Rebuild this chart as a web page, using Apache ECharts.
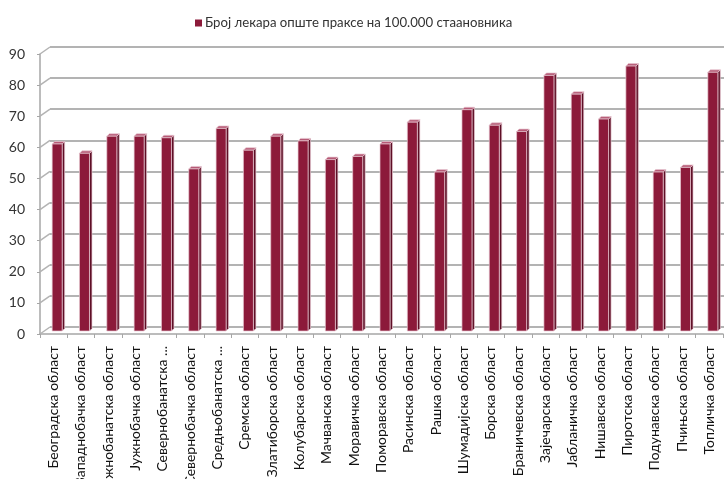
<!DOCTYPE html>
<html><head><meta charset="utf-8">
<script src="https://cdn.jsdelivr.net/npm/echarts@6/dist/echarts.min.js"></script>
<style>html,body{margin:0;padding:0;background:#fff}#c{width:724px;height:479px}</style>
</head><body><div id="c"></div>
<script>
var seriesName = 'Број лекара опште праксе на 100.000 стаановника';
var categories = ['Београдска област','Западнобачка област','Јужнобанатска област','Јужнобачка област','Севернобанатска ...','Севернобачка област','Средњобанатска ...','Сремска област','Златиборска област','Колубарска област','Мачванска област','Моравичка област','Поморавска област','Расинска област','Рашка област','Шумадијска област','Борска област','Браничевска област','Зајечарска област','Јабланичка област','Нишавска област','Пиротска област','Подунавска област','Пчињска област','Топличка област'];
var values = [60, 57, 62.5, 62.5, 62, 52, 65, 58, 62.5, 61, 55, 56, 60, 67, 51, 71, 66, 64, 82, 76, 68, 85, 51, 52.5, 83];
var yTicks = [0, 10, 20, 30, 40, 50, 60, 70, 80, 90];

var FONT = 'Lato, "Noto Sans", sans-serif';
var frontC = '#8c1a3a', sideC = '#5e0f26', topC = '#b65a76', edgeC = '#e8c9d2';

var barData = values.map(function (v, i) { return [i, v]; });
var stubData = yTicks.map(function (t) { return [0, t]; });

var chart = echarts.init(document.getElementById('c'), null, {renderer: 'canvas'});
chart.setOption({
  animation: false,
  legend: {
    left: 190, top: 10, icon: 'rect', itemWidth: 7, itemHeight: 7, itemGap: 4,
    textStyle: {fontFamily: FONT, fontSize: 13.2, color: '#333', lineHeight: 16, padding: [0, 0, 0, -2]},
    data: [seriesName]
  },
  grid: [
    {left: 40, top: 54, width: 683, height: 280, outerBoundsMode: 'none', containLabel: false},
    {left: 50, top: 47, right: 0, height: 280, outerBoundsMode: 'none', containLabel: false},
    {left: 43.5, top: 50.5, width: 683, height: 280.5, outerBoundsMode: 'none', containLabel: false}
  ],
  xAxis: [
    {gridIndex: 0, type: 'category', data: categories, boundaryGap: true,
     axisLine: {lineStyle: {color: '#a6a6a6', width: 1.5}},
     axisTick: {show: true, length: 4, lineStyle: {color: '#a6a6a6'}},
     axisLabel: {rotate: 90, interval: 0, margin: 12, fontFamily: FONT, fontSize: 14, color: '#111'}},
    {gridIndex: 1, type: 'value', min: 0, max: 1, show: false},
    {gridIndex: 2, type: 'category', data: categories, show: false}
  ],
  yAxis: [
    {gridIndex: 0, type: 'value', min: 0, max: 90, interval: 10,
     axisLine: {show: true, lineStyle: {color: '#a6a6a6', width: 1.5}},
     axisTick: {show: true, length: 3, lineStyle: {color: '#a6a6a6'}},
     splitLine: {show: false},
     axisLabel: {margin: 15, fontFamily: FONT, fontSize: 14, color: '#333'}},
    {gridIndex: 1, type: 'value', min: 0, max: 90, interval: 10,
     axisLine: {show: false}, axisTick: {show: false}, axisLabel: {show: false},
     splitLine: {show: true, lineStyle: {color: '#b3b3b3', width: 2}}},
    {gridIndex: 2, type: 'value', min: 0, max: 90, show: false}
  ],
  series: [
    {
      type: 'custom', name: 'stubs', xAxisIndex: 1, yAxisIndex: 1, silent: true,
      data: stubData, encode: {x: 0, y: 1}, legendHoverLink: false,
      renderItem: function (params, api) {
        var p = api.coord([api.value(0), api.value(1)]);
        return {type: 'line', shape: {x1: p[0] - 10, y1: p[1] + 7, x2: p[0], y2: p[1]},
                style: {stroke: '#b3b3b3', lineWidth: 1.5}};
      }
    },
    {
      type: 'custom', name: seriesName, xAxisIndex: 2, yAxisIndex: 2,
      itemStyle: {color: frontC},
      data: barData, encode: {x: 0, y: 1}, z: 5,
      renderItem: function (params, api) {
        var base = api.coord([api.value(0), 0]);
        var top = api.coord([api.value(0), api.value(1)]);
        var w = 10, dx = 2.5, dy = 2.5;
        var x0 = base[0] - w / 2, x1 = base[0] + w / 2;
        var yt = top[1], yb = base[1];
        return {type: 'group', children: [
          {type: 'polygon', shape: {points: [[x1, yt], [x1 + dx, yt - dy], [x1 + dx, yb - dy], [x1, yb]]},
           style: {fill: sideC, stroke: edgeC, lineWidth: 0.7}},
          {type: 'polygon', shape: {points: [[x0, yt], [x1, yt], [x1 + dx, yt - dy], [x0 + dx, yt - dy]]},
           style: {fill: topC, stroke: edgeC, lineWidth: 0.7}},
          {type: 'rect', shape: {x: x0, y: yt, width: w, height: yb - yt},
           style: {fill: frontC, stroke: edgeC, lineWidth: 0.7}}
        ]};
      }
    }
  ]
});
</script>
</body></html>
